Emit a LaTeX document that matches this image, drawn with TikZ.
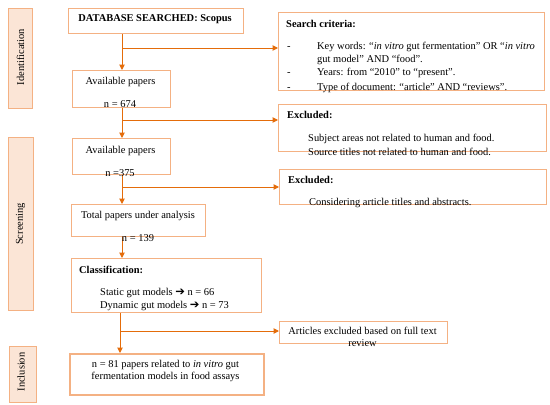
\documentclass[tikz,border=0pt]{standalone}
\usepackage{fontspec}
\setmainfont{Liberation Serif}
\newfontfamily\arrowfont{DejaVu Sans}
\usetikzlibrary{arrows.meta}
\definecolor{boxline}{HTML}{F4B183}
\definecolor{arrline}{HTML}{E46C0A}
\definecolor{barfill}{HTML}{FBE5D6}
\newcommand{\rarr}{{\arrowfont\fontsize{11.5}{12}\selectfont ➔}}
\begin{document}
\begin{tikzpicture}[x=1pt,y=-1pt,
  box/.style={draw=boxline, line width=1.1pt, fill=white, inner sep=0pt, anchor=north west},
  finbox/.style={box, line width=2.4pt},
  bar/.style={draw=boxline, line width=1.1pt, fill=barfill, inner sep=0pt, anchor=north west},
  txt/.style={inner sep=0pt, font=\fontsize{10.45}{12}\selectfont},
  ttl/.style={txt, font=\fontsize{10.45}{12}\selectfont\bfseries},
  phase/.style={txt, rotate=90},
  arr/.style={draw=arrline, line width=1pt, -{Triangle[length=5.5pt,width=5.5pt]}}]
\useasboundingbox (0,0) rectangle (550,405);
% phase bars
\node[bar, minimum width=24pt, minimum height=100pt] (idb) at (8,8) {};
\node[bar, minimum width=25pt, minimum height=173pt] (scb) at (8,137) {};
\node[bar, minimum width=27pt, minimum height=56pt] (inb) at (9,346) {};
\node[phase] (idt) at (20.5,57) {Identification};
\node[phase] (sct) at (20.5,224) {Screening};
\node[phase] (int) at (21,372) {Inclusion};
% main boxes
\node[box, minimum width=175pt, minimum height=25pt] (db) at (68,8) {};
\node[box, minimum width=98pt, minimum height=37pt] (av1) at (72,70) {};
\node[box, minimum width=98pt, minimum height=36pt] (av2) at (72,138) {};
\node[box, minimum width=134pt, minimum height=32pt] (tot) at (71,204) {};
\node[box, minimum width=190pt, minimum height=54pt] (cls) at (71,258) {};
\node[finbox, minimum width=194pt, minimum height=41pt] (fin) at (69,353) {};
% right boxes
\node[box, minimum width=266pt, minimum height=78pt] (crit) at (278,12) {};
\node[box, minimum width=268pt, minimum height=47pt] (exc1) at (278,104) {};
\node[box, minimum width=267pt, minimum height=35pt] (exc2) at (279,169) {};
\node[box, minimum width=168pt, minimum height=22pt] (artx) at (279,321) {};
% connectors
\coordinate (sp) at (122,0);
\coordinate (sp2) at (120,0);
\draw[arr] (sp |- db.south) -- (sp |- av1.north);
\coordinate (b1) at (122,48);
\draw[arr] (b1) -- (b1 -| crit.west);
\draw[arr] (sp |- av1.south) -- (sp |- av2.north);
\coordinate (b2) at (122,120);
\draw[arr] (b2) -- (b2 -| exc1.west);
\draw[arr] (sp |- av2.south) -- (sp |- tot.north);
\coordinate (b3) at (122,187);
\draw[arr] (b3) -- (b3 -| exc2.west);
\draw[arr] (sp |- tot.south) -- (sp |- cls.north);
\draw[arr] (sp2 |- cls.south) -- (sp2 |- fin.north);
\coordinate (b4) at (120,331);
\draw[arr] (b4) -- (b4 -| artx.west);
% texts main column
\node[ttl, anchor=base] (dbt) at (155,21) {DATABASE SEARCHED: Scopus};
\node[txt, anchor=base] (av1a) at (120.5,84) {Available papers};
\node[txt, anchor=base] (av1b) at (120,107.5) {n = 674};
\node[txt, anchor=base] (av2a) at (120.5,153.5) {Available papers};
\node[txt, anchor=base] (av2b) at (120,176) {n =375};
\node[txt, anchor=base] (tota) at (138,218) {Total papers under analysis};
\node[txt, anchor=base] (totb) at (138,241) {n = 139};
\node[ttl, anchor=base west] (clsa) at (79,273) {Classification:};
\node[txt, anchor=base west] (clsb) at (100,295.5) {Static gut models \rarr\ n = 66};
\node[txt, anchor=base west] (clsc) at (100,308.5) {Dynamic gut models \rarr\ n = 73};
\node[txt, anchor=base] (fina) at (165.5,367) {n = 81 papers related to \textit{in vitro} gut};
\node[txt, anchor=base] (finb) at (165.5,379) {fermentation models in food assays};
% texts right column
\node[ttl, anchor=base west] (crt) at (286,27.5) {Search criteria:};
\node[txt, anchor=base west] (d1) at (287,49.5) {-};
\node[txt, anchor=base west] (c1) at (317,49.5) {Key words: “\textit{in vitro} gut fermentation” OR “\textit{in vitro}};
\node[txt, anchor=base west] (c1b) at (317,62.5) {gut model” AND “food”.};
\node[txt, anchor=base west] (d2) at (287,75) {-};
\node[txt, anchor=base west] (c2) at (317,75) {Years: from “2010” to “present”.};
\node[txt, anchor=base west] (d3) at (287,90) {-};
\node[txt, anchor=base west] (c3) at (317,90) {Type of document: “article” AND “reviews”.};
\node[ttl, anchor=base west] (e1t) at (287,118.5) {Excluded:};
\node[txt, anchor=base west] (e1a) at (308,141) {Subject areas not related to human and food.};
\node[txt, anchor=base west] (e1b) at (308,155) {Source titles not related to human and food.};
\node[ttl, anchor=base west] (e2t) at (288,183) {Excluded:};
\node[txt, anchor=base west] (e2a) at (309,205.5) {Considering article titles and abstracts.};
\node[txt, anchor=base] (ara) at (362.5,334) {Articles excluded based on full text};
\node[txt, anchor=base] (arb) at (362.5,346) {review};
\end{tikzpicture}
\end{document}
